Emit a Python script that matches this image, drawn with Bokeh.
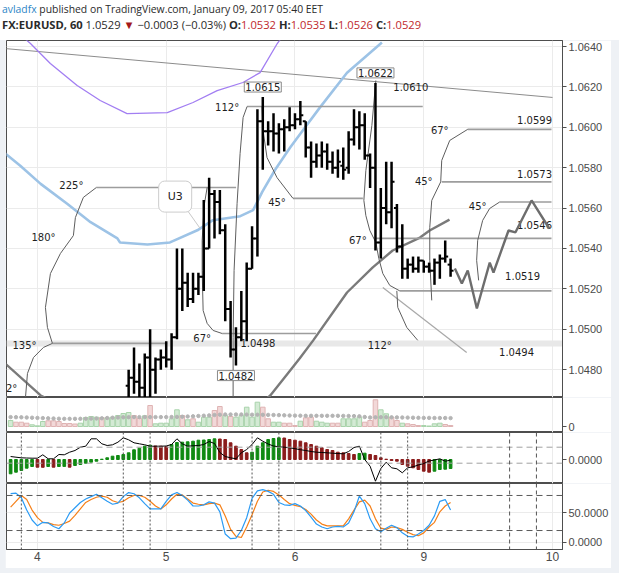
from bokeh.plotting import figure
from bokeh.models import (Range1d, FixedTicker, Span, Label, Div, Grid, NumeralTickFormatter,
                          ColumnDataSource, LinearAxis)
from bokeh.layouts import column
from bokeh.embed import file_html
from bokeh.resources import INLINE
from bokeh.core.properties import value

# ---------------- data ----------------
# x is the bar index in hours since Jan 4 00:00 (trading hours, weekend skipped)
day_ticks = [0, 24, 48, 72, 96]
day_labels = ["4", "5", "6", "9", "10"]
price_ticks = [1.0480, 1.0500, 1.0520, 1.0540, 1.0560, 1.0580, 1.0600, 1.0620, 1.0640]

bar_hour = list(range(17, 78))
bar_open = [1.0472, 1.0476, 1.0474, 1.0471, 1.0486, 1.0480, 1.0485, 1.0486, 1.0485, 1.0496,
            1.0520, 1.0523, 1.0515, 1.0520, 1.0526, 1.0540, 1.0567, 1.0563, 1.0549, 1.0510,
            1.0490, 1.0496, 1.0504, 1.0530, 1.0545, 1.0603, 1.0598, 1.0598, 1.0597, 1.0599,
            1.0600, 1.0601, 1.0604, 1.0603, 1.0590, 1.0583, 1.0586, 1.0588, 1.0583, 1.0580,
            1.0581, 1.0580, 1.0594, 1.0600, 1.0601, 1.0586, 1.0580, 1.0543, 1.0560, 1.0558,
            1.0560, 1.0541, 1.0530, 1.0532, 1.0530, 1.0534, 1.0531, 1.0529, 1.0533, 1.0535,
            1.0532]
bar_high = [1.0480, 1.0491, 1.0483, 1.0488, 1.0500, 1.0486, 1.0490, 1.0494, 1.0498, 1.0540,
            1.0540, 1.0528, 1.0528, 1.0528, 1.0564, 1.0575, 1.0569, 1.0569, 1.0552, 1.0514,
            1.0501, 1.0519, 1.0533, 1.0551, 1.0609, 1.0615, 1.0603, 1.0607, 1.0602, 1.0604,
            1.0610, 1.0607, 1.0613, 1.0603, 1.0593, 1.0592, 1.0593, 1.0592, 1.0588, 1.0589,
            1.0590, 1.0598, 1.0609, 1.0608, 1.0607, 1.0587, 1.0622, 1.0570, 1.0583, 1.0583,
            1.0562, 1.0552, 1.0535, 1.0536, 1.0536, 1.0534, 1.0533, 1.0535, 1.0537, 1.0544,
            1.0535]
bar_low = [1.0462, 1.0468, 1.0463, 1.0462, 1.0466, 1.0468, 1.0480, 1.0481, 1.0480, 1.0495,
           1.0509, 1.0511, 1.0513, 1.0517, 1.0519, 1.0540, 1.0545, 1.0547, 1.0504, 1.0486,
           1.0482, 1.0494, 1.0494, 1.0530, 1.0536, 1.0579, 1.0591, 1.0588, 1.0587, 1.0588,
           1.0598, 1.0599, 1.0601, 1.0585, 1.0575, 1.0580, 1.0580, 1.0579, 1.0577, 1.0575,
           1.0574, 1.0577, 1.0591, 1.0589, 1.0584, 1.0570, 1.0539, 1.0535, 1.0552, 1.0550,
           1.0538, 1.0525, 1.0525, 1.0528, 1.0528, 1.0528, 1.0528, 1.0522, 1.0525, 1.0533,
           1.0526]
bar_close = [1.0476, 1.0474, 1.0471, 1.0486, 1.0480, 1.0485, 1.0486, 1.0485, 1.0496, 1.0520,
             1.0523, 1.0515, 1.0520, 1.0526, 1.0540, 1.0567, 1.0563, 1.0549, 1.0510, 1.0490,
             1.0496, 1.0504, 1.0530, 1.0545, 1.0603, 1.0598, 1.0598, 1.0597, 1.0599, 1.0600,
             1.0601, 1.0604, 1.0606, 1.0590, 1.0583, 1.0586, 1.0588, 1.0583, 1.0580, 1.0583,
             1.0579, 1.0594, 1.0600, 1.0601, 1.0586, 1.0580, 1.0543, 1.0560, 1.0558, 1.0573,
             1.0541, 1.0530, 1.0532, 1.0530, 1.0534, 1.0531, 1.0529, 1.0533, 1.0535, 1.0536,
             1.0529]
prev_close = 1.0532

all_hour = list(range(-5, 78))
volume = [600, 430, 430, 330, 170, 70, 500, 570, 570, 500, 300, 300, 250, 330, 900, 1000,
          930, 900, 870, 930, 1100, 1300, 1400, 1100, 800, 1070,
          2100, 270, 330, 330, 770, 1670, 1100, 670, 770, 430, 930, 930, 1600, 2000, 1100,
          1000, 930, 1100, 1930, 930, 2430, 1930, 770, 430, 430, 330, 330, 100, 530, 870,
          930, 530, 430, 330, 330, 330, 770, 770, 770, 930, 430, 600, 2670, 1670, 1270, 930,
          600, 330, 270, 200, 100, 100, 50, 270, 330, 200, 100]
vol_up = [1, 0, 0, 0, 1, 1, 1, 0, 0, 0, 0, 0, 0, 1, 1, 1, 1, 0, 1, 1, 1, 1, 1, 0, 0, 1,
          0, 1, 1, 1, 1, 1, 0, 1, 0, 1, 1, 1, 0, 0, 1, 0, 1, 1, 1, 1, 1, 0, 0, 1, 1, 0, 0,
          0, 1, 0, 0, 1, 1, 1, 0, 0, 1, 1, 1, 1, 0, 0, 0, 1, 1, 0, 0, 1, 0, 0, 0, 1, 1, 1,
          1, 0, 0]
vol_ma = [940, 930, 920, 900, 880, 860, 840, 820,
          800, 780, 770, 770, 770, 770, 780, 790, 800, 820,
          850, 880, 900, 920, 930, 940, 940, 940,
          940, 940, 940, 940, 950, 960, 980, 1000, 1020, 1050, 1080, 1110,
          1150, 1180, 1200, 1200, 1200, 1200, 1190, 1180, 1180, 1170, 1160, 1150, 1140,
          1120, 1100, 1090, 1080, 1070, 1070, 1070, 1070, 1070, 1070, 1070, 1060, 1050, 1040,
          1020, 950, 900,
          920, 930, 930, 920, 910, 900, 890, 880, 870, 860, 860, 850, 850, 850, 840]

# MACD panel (units of 0.00002)
macd_hist = [-14.3, -12.7, -11.0, -8.7, -7.0, -7.7, -7.8, -7.0, -7.7, -7.0, -6.9, -7.7, -6.0,
             -5.0, -3.7, -2.7, -1.7, 0.3, 1.7, 3.3, 4.0, 5.0, 6.7, 9.7, 11.3, 13.3,
             14.3, 13.5, 13.3, 12.7, 15.0, 17.0, 17.3, 17.7, 18.3, 19.3, 19.5, 20.0, 20.7, 20.5,
             20.0, 16.7, 13.3, 10.0, 6.7, 7.3, 13.3, 16.7, 20.0, 21.0, 21.7, 21.5, 20.0, 19.3,
             18.3, 16.7, 15.0, 13.3, 11.7, 10.0, 9.0, 7.3, 6.7, 6.0, 5.0, 6.0, 6.3, 5.0, 4.0,
             1.7, 0.3, -1.0, -1.7, -5.0, -6.7, -8.3, -10.0, -11.7, -12.7, -11.7, -10.0, -9.7,
             -9.0]
macd_up = [1, 1, 1, 1, 1, 0, 0, 1, 0, 1, 1, 0, 1, 1, 1, 1, 1, 1, 1, 1, 1, 1, 1, 1, 1, 1,
           1, 0, 0, 0, 1, 1, 1, 1, 1, 1, 1, 1, 1, 0, 0, 0, 0, 0, 0, 1, 1, 1, 1, 1, 1, 0, 0, 0,
           0, 0, 0, 0, 0, 0, 0, 0, 0, 0, 0, 1, 1, 0, 0, 0, 0, 0, 0, 0, 0, 0, 0, 0, 0, 1, 1, 1,
           1]
macd_line = [3.0, 2.3, 1.7, 1.5, 1.3, 1.3, 4.7, 0.7, 0.7, 5.0, 4.7, 7.3, 9.0, 12.3, 13.3, 20.7,
             20.7, 15.7, 14.0, 14.7, 17.3, 21.7, 19.7, 16.7, 15.7, 14.7,
             13.3, 13.3, 13.3, 13.5, 15.0, 20.7, 15.7, 13.3, 13.7, 14.0, 15.0, 18.0, 16.0, 7.0,
             3.0, 1.7, 0.7, 6.7, 10.0, 15.0, 21.7, 18.3, 15.5, 13.5, 12.7, 12.3, 11.7, 10.8,
             9.8, 9.0, 8.0, 7.3, 7.0, 6.7, 6.3, 6.0, 5.7, 8.0, 12.0, 13.3, 0.0, -6.7, -21.7,
             -9.0, -2.7, -8.3, -9.3, -13.3, -8.3, -7.3, -5.5, -4.0, -1.5, -0.5, 0.7, -1.7, -0.7]
macd_levels = [12.3, -3.7]

# Stochastic
stoch_k = [83, 84, 76, 55, 38, 28, 34, 33, 27, 23, 33, 50, 59, 68, 74, 78, 82, 76, 70, 65, 67,
           78, 85, 83, 76, 66, 57, 57, 57, 70, 81, 85, 80, 72, 62, 62, 64, 69, 67, 52, 14, 6, 7,
           20, 42, 75, 88, 90, 87, 82, 68, 64, 63, 66, 62, 54, 43, 31, 26, 23, 26, 27, 26, 33,
           52, 79, 66, 40, 23, 18, 24, 29, 25, 16, 10, 9, 14, 20, 29, 45, 70, 73, 55]
stoch_d = [60, 70, 80, 73, 55, 42, 34, 33, 30, 29, 32, 36, 46, 57, 68, 73, 77, 79, 77, 71, 68,
           70, 76, 80, 80, 77, 70, 62, 57, 64, 74, 82, 81, 74, 67, 65, 64, 66, 67, 64, 45, 22,
           10, 8, 26, 47, 70, 86, 89, 87, 81, 73, 66, 63, 61, 56, 48, 38, 31, 28, 28, 28, 28, 40,
           55, 69, 72, 62, 40, 24, 22, 26, 25, 22, 17, 13, 11, 16, 26, 34, 52, 62, 68]
stoch_levels = [80, 20]
session_marks = [-3, 16, 21, 40, 45, 64, 69]
future_marks = [88, 93]

# moving averages on price (hour, price)
ma_purple_h = [-5.0, -1.3, 2.4, 7.4, 11.7, 16.7, 24.2, 29.0, 33.5, 38.3, 41.5, 44.7, 47.0]
ma_purple_p = [1.0650, 1.06415, 1.06316, 1.06207, 1.06133, 1.06068, 1.06073, 1.06123, 1.06182,
               1.06222, 1.06271, 1.06415, 1.0650]
ma_blue_h = [-6.0, -3.2, 0.6, 5.6, 9.9, 14.9, 15.4, 20.5, 24.7, 29.8, 32.7, 37.8, 40.2, 41.9,
             44.3, 47.1, 49.9, 52.7, 57.7, 64.2]
ma_blue_p = [1.0587, 1.0581, 1.0572, 1.0562, 1.0553, 1.0545, 1.0543, 1.0542, 1.0543, 1.0549,
             1.0554, 1.0556, 1.0559, 1.0568, 1.0579, 1.0590, 1.0600, 1.0610, 1.0627, 1.0642]
ma_gray_h = [-6.0, 0.6, 10.0, 25.0, 38.0, 43.4, 47.1, 48.9, 51.4, 57.7, 62.5, 66.2, 71.3, 73.1, 76.8]
ma_gray_p = [1.04830, 1.04672, 1.0455, 1.0450, 1.0455, 1.04672, 1.04796, 1.04856, 1.04945,
             1.05182, 1.05306, 1.0539, 1.05454, 1.05489, 1.05543]

# projection drawn after the last bar
proj_h = [77.8, 79.1, 80.2, 81.9, 84.3, 85.0, 87.8, 89.1, 92.1, 95.4]
proj_p = [1.05301, 1.05227, 1.05291, 1.05103, 1.0533, 1.05281, 1.05489, 1.0548, 1.05638, 1.05499]

# drawing tools: curves (hour, price)
curve_a_h = [10.98, 8.56, 7.07, 6.70, 4.28, 2.42, 1.49, 1.86, 2.79, 1.12, -0.74, -1.86, -2.23, -2.4]
curve_a_p = [1.05702, 1.05653, 1.05553, 1.05464, 1.05375, 1.05276, 1.05108, 1.05009, 1.0493,
             1.0491, 1.0486, 1.04781, 1.04662, 1.0462]
curve_b_h = [31.63, 31.07, 30.70, 30.70, 30.88, 31.63, 32.74, 34.42]
curve_b_p = [1.05702, 1.05613, 1.0544, 1.05291, 1.05093, 1.05029, 1.04994, 1.04979]
curve_c_h = [39.07, 38.33, 37.77, 37.21, 36.65, 36.47, 36.47]
curve_c_p = [1.06103, 1.06049, 1.0587, 1.05623, 1.05291, 1.04959, 1.0462]
curve_d_h = [41.86, 42.05, 42.79, 44.65, 47.63]
curve_d_p = [1.06103, 1.05984, 1.0585, 1.05751, 1.05648]
curve_e_h = [63.07, 62.33, 61.21, 60.84, 61.21, 61.95, 63.07, 63.63, 64.37, 65.67, 67.53]
curve_e_p = [1.06232, 1.06009, 1.05786, 1.05638, 1.05563, 1.05489, 1.0543, 1.0535, 1.05276,
             1.05217, 1.0519]
curve_f_h = [66.98, 67.16, 68.84, 70.88]
curve_f_p = [1.0519, 1.05108, 1.05009, 1.04945]
curve_h_h = [80.19, 76.84, 75.35, 75.16, 73.49, 73.12, 73.12, 73.49]
curve_h_p = [1.0599, 1.05935, 1.05836, 1.0573, 1.05638, 1.05504, 1.05341, 1.05143]
curve_i_h = [86.14, 84.28, 82.98, 82.05, 81.86, 82.23]
curve_i_p = [1.0563, 1.05598, 1.05539, 1.0544, 1.05341, 1.05242]

# horizontal levels of the drawings
level_h0 = [10.98, 2.79, 34.42, 39.07, 47.63, 62.88, 67.53, 80.19, 75.35, 86.14]
level_h1 = [37.02, 24.19, 51.91, 71.81, 60.65, 95.81, 95.81, 95.81, 95.81, 95.81]
level_p = [1.05702, 1.0493, 1.04979, 1.06103, 1.05648, 1.0545, 1.0519, 1.0599, 1.0573, 1.0563]
band_price = 1.0493

trend_top_h = [-6.0, 96.0]
trend_top_p = [1.0639, 1.06148]
trend_diag_h = [64.37, 80.0]
trend_diag_p = [1.05207, 1.04885]

angle_text = ["225°", "180°", "135°", "2°", "112°", "45°", "67°", "67°", "112°", "67°", "45°", "45°"]
angle_h = [6.33, 1.12, -2.42, -4.8, 35.35, 44.65, 30.7, 59.72, 63.8, 74.98, 72.0, 82.05]
angle_p = [1.05712, 1.05454, 1.0492, 1.04707, 1.06098, 1.05628, 1.04955, 1.0544, 1.0492,
           1.05984, 1.05732, 1.05608]
level_text = ["1.0610", "1.0599", "1.0573", "1.0546", "1.0519", "1.0494", "1.0498"]
level_text_h = [69.58, 92.65, 92.65, 92.65, 90.42, 89.3, 41.1]
level_text_p = [1.0620, 1.06034, 1.05771, 1.05514, 1.05262, 1.04885, 1.0493]

callout_text = "U3"
callout_h, callout_p = 25.67, 1.05657
callout_ptr_h = [28.09, 30.33]
callout_ptr_p = [1.05583, 1.05499]

# ---------------- layout ----------------
FIG_W = 606
AX_W = 48
LEFT = 5
xr = Range1d(-5.767, 97.86)
GRID = "#ebebeb"
BORDER = "#4e4e4e"
AXFONT = "Liberation Sans"
DRAWFONT = "DejaVu Sans"
PAGE_BG = "#eef1f5"


def base_fig(h, yr, bottom=0):
    f = figure(width=FIG_W, height=h, x_range=xr, y_range=yr,
               output_backend="svg", toolbar_location=None,
               x_axis_location=None, y_axis_location="right",
               min_border=0, min_border_left=1, min_border_right=AX_W,
               min_border_top=0, min_border_bottom=bottom, margin=(0, 0, 0, LEFT))
    f.grid.visible = False
    f.outline_line_color = BORDER
    f.outline_line_width = 1
    f.background_fill_color = "white"
    f.border_fill_color = "white"
    f.add_layout(Grid(dimension=0, ticker=FixedTicker(ticks=day_ticks),
                      grid_line_color=GRID, level="underlay"))
    ya = f.yaxis[0]
    ya.axis_line_color = BORDER
    ya.major_tick_line_color = BORDER
    ya.major_tick_out = 4
    ya.major_tick_in = 0
    ya.minor_tick_line_color = None
    ya.major_label_standoff = 2
    ya.major_label_text_font = AXFONT
    ya.major_label_text_font_size = "11px"
    ya.major_label_text_color = "#4a4a4a"
    return f


# header
last_o, last_h, last_l, last_c = bar_open[-1], bar_high[-1], bar_low[-1], bar_close[-1]
chg = last_c - prev_close
red = "#c0282d"
header_html = (
    '<div style="font-family:\'Open Sans\',sans-serif;color:#2a2a2a;white-space:nowrap;'
    'padding-left:2px;padding-top:1px;">'
    '<div style="font-size:10.4px;line-height:16px;"><span style="color:#2d86c6">avladfx</span>'
    ' published on TradingView.com, January 09, 2017 05:40 EET</div>'
    '<div style="font-size:11.2px;line-height:16px;"><b>FX:EURUSD, 60</b> %.4f '
    '<span style="color:#a3191b">&#9660;</span> &minus;%.4f (&minus;%.2f%%) '
    '<b>O:</b><span style="color:%s">%.4f</span> <b>H:</b><span style="color:%s">%.4f</span> '
    '<b>L:</b><span style="color:%s">%.4f</span> <b>C:</b><span style="color:%s">%.4f</span></div>'
    '</div>'
) % (last_c, abs(chg), abs(chg) / prev_close * 100, red, last_o, red, last_h, red, last_l,
     red, last_c)
header = Div(text=header_html, width=619, height=40, margin=(0, 0, 0, 0),
             styles={"background-color": "white"})

# ---- main price pane ----
p = base_fig(357, Range1d(1.04662, 1.06430))
p.add_layout(Grid(dimension=1, ticker=FixedTicker(ticks=price_ticks), grid_line_color=GRID,
                  level="underlay"))
p.yaxis[0].ticker = FixedTicker(ticks=price_ticks)
p.yaxis[0].formatter = NumeralTickFormatter(format="0.0000")

p.add_layout(Span(location=band_price, dimension="width", line_color="#e8e8e8",
                  line_width=6, level="underlay"))

p.line(trend_top_h, trend_top_p, line_color="#8c8c8c", line_width=1)
p.line(ma_purple_h, ma_purple_p, line_color="#a27ef2", line_width=1.3)
p.line(ma_blue_h, ma_blue_p, line_color="#9dc3e6", line_width=2.6)
p.line(ma_gray_h, ma_gray_p, line_color="#7a7a7a", line_width=2.4)
p.line(trend_diag_h, trend_diag_p, line_color="#a8a8a8", line_width=1.2)

p.segment(x0=level_h0, x1=level_h1, y0=level_p, y1=level_p, line_color="#9d9d9d", line_width=1.6)
p.multi_line(xs=[curve_a_h, curve_b_h, curve_c_h, curve_d_h, curve_e_h, curve_f_h, curve_h_h,
                 curve_i_h],
             ys=[curve_a_p, curve_b_p, curve_c_p, curve_d_p, curve_e_p, curve_f_p, curve_h_p,
                 curve_i_p],
             line_color="#5e5e5e", line_width=1)

p.text(x=angle_h, y=angle_p, text=angle_text, text_font=value(DRAWFONT), text_font_size="10px",
       text_color="#1e1e1e", text_align="center", text_baseline="middle")
p.text(x=level_text_h, y=level_text_p, text=level_text, text_font=value(DRAWFONT),
       text_font_size="10px", text_color="#1e1e1e", text_align="center",
       text_baseline="middle")

# OHLC bars
src = ColumnDataSource(dict(x=bar_hour, o=bar_open, h=bar_high, l=bar_low, c=bar_close,
                            xl=[v - 0.55 for v in bar_hour], xr=[v + 0.55 for v in bar_hour]))
p.segment(x0="x", x1="x", y0="l", y1="h", source=src, line_color="black", line_width=2.5)
p.segment(x0="xl", x1="x", y0="o", y1="o", source=src, line_color="black", line_width=2)
p.segment(x0="x", x1="xr", y0="c", y1="c", source=src, line_color="black", line_width=2)

p.line(proj_h, proj_p, line_color="#6d6d6d", line_width=2.4)

# callout
p.line(callout_ptr_h, callout_ptr_p, line_color="#c8c8c8", line_width=1)
p.add_layout(Label(x=callout_h, y=callout_p, text=callout_text, text_align="center",
                   text_baseline="middle", text_font=DRAWFONT, text_font_size="11px",
                   text_color="#222", background_fill_color="white",
                   border_line_color="#cccccc", padding=9, border_radius=6))

# high/low price tags
i_hi1 = bar_hour.index(42)
i_hi2 = bar_hour.index(63)
i_lo = bar_hour.index(37)
for xv, yv, off, base in [(42, bar_high[i_hi1], 5, "bottom"), (63, bar_high[i_hi2], 5, "bottom"),
                          (37, bar_low[i_lo], -5, "top")]:
    p.add_layout(Label(x=xv, y=yv, y_offset=off, text="%.4f" % yv, text_align="center",
                       text_baseline=base, text_font=DRAWFONT, text_font_size="10px",
                       text_color="#222", background_fill_color="white",
                       border_line_color="#8a8a8a", padding=1))

# last price tag on axis
p.add_layout(Label(x=xr.end, y=last_c, x_offset=2, text="%.4f" % last_c, text_align="left",
                   text_baseline="middle", text_font=AXFONT, text_font_size="11px",
                   text_color="white", background_fill_color="black", padding=2))

# ---- volume pane ----
pv = base_fig(35, Range1d(-600, 2900))
pv.yaxis[0].ticker = FixedTicker(ticks=[0])
pv.yaxis[0].formatter = NumeralTickFormatter(format="0")
vsrc = ColumnDataSource(dict(
    x=all_hour, v=volume,
    fill=["#d3ead4" if u else "#f2d8d8" for u in vol_up],
    edge=["#a9d3ab" if u else "#dfb3b3" for u in vol_up]))
pv.vbar(x="x", top="v", bottom=0, width=0.85, source=vsrc, fill_color="fill",
        line_color="edge", line_width=1)
pv.scatter(all_hour, vol_ma, size=3.4, color="#b4b4b4")

# ---- MACD pane ----
pm = base_fig(51, Range1d(-24, 27))
pm.yaxis[0].ticker = FixedTicker(ticks=[0])
pm.yaxis[0].formatter = NumeralTickFormatter(format="0.0000")
for lv in macd_levels:
    pm.add_layout(Span(location=lv, dimension="width", line_color="#a0a0a0",
                       line_dash="6 4", line_width=1))
for sm in session_marks:
    pm.add_layout(Span(location=sm, dimension="height", line_color="#555555",
                       line_dash="2 2", line_width=1))
for sm in future_marks:
    pm.add_layout(Span(location=sm, dimension="height", line_color="#555555",
                       line_dash="4 3", line_width=1))
hcol = ["#0f8a12" if u else "#8b1c1c" for u in macd_up]
pm.vbar(x=all_hour, top=macd_hist, bottom=0, width=0.5, color=hcol)
pm.line(all_hour, macd_line, line_color="black", line_width=1)

# ---- Stochastic pane (with the time axis) ----
ps = base_fig(85, Range1d(-12.5, 100.5), bottom=19)
ps.yaxis[0].ticker = FixedTicker(ticks=[0, 50])
ps.yaxis[0].formatter = NumeralTickFormatter(format="0.0000")
ps.add_layout(Grid(dimension=1, ticker=FixedTicker(ticks=[0, 50]), grid_line_color=GRID,
                   level="underlay"))
for lv in stoch_levels:
    ps.add_layout(Span(location=lv, dimension="width", line_color="#5a5a5a",
                       line_dash="6 4", line_width=1))
for sm in session_marks:
    ps.add_layout(Span(location=sm, dimension="height", line_color="#555555",
                       line_dash="2 2", line_width=1))
for sm in future_marks:
    ps.add_layout(Span(location=sm, dimension="height", line_color="#555555",
                       line_dash="4 3", line_width=1))
ps.line(all_hour, stoch_d, line_color="#f57f17", line_width=1.2)
ps.line(all_hour, stoch_k, line_color="#2b9bf4", line_width=1.2)

xa = LinearAxis(ticker=FixedTicker(ticks=day_ticks),
                major_label_overrides={t: l for t, l in zip(day_ticks, day_labels)})
xa.axis_line_color = BORDER
xa.major_tick_out = 0
xa.major_tick_in = 0
xa.minor_tick_line_color = None
xa.major_label_standoff = 2
xa.major_label_text_font = AXFONT
xa.major_label_text_font_size = "12px"
xa.major_label_text_color = "#4a4a4a"
ps.add_layout(xa, "below")

layout = column(header, p, pv, pm, ps, spacing=0, width=619, height=573,
                styles={"background-color": PAGE_BG})
open("out.html", "w").write(file_html(layout, INLINE))
